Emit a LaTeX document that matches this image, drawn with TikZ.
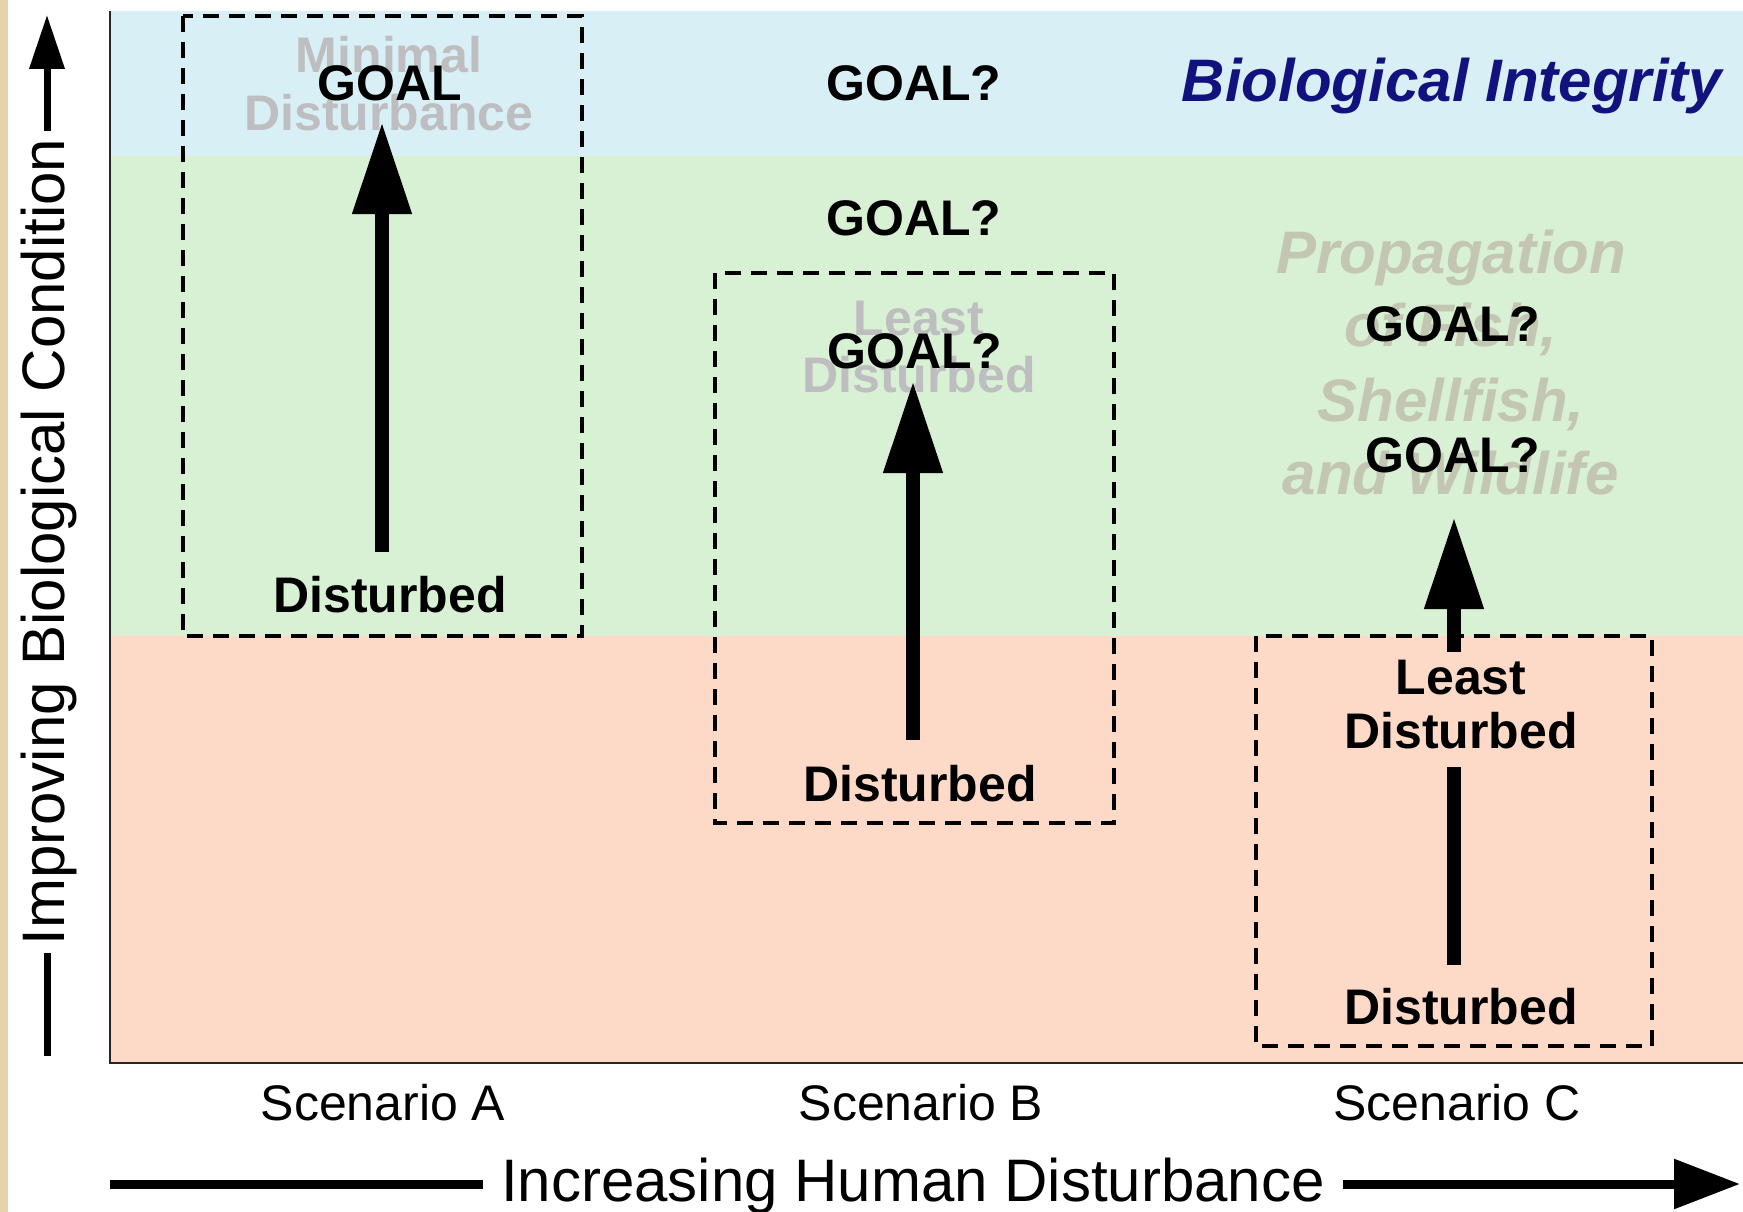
\documentclass[tikz,border=0pt]{standalone}
\usepackage{fontspec}
\setmainfont{Liberation Sans}
\usetikzlibrary{arrows.meta}
\definecolor{bandblue}{HTML}{D9EFF6}
\definecolor{bandgreen}{HTML}{D8F0D3}
\definecolor{bandpink}{HTML}{FDD9C8}
\definecolor{ghost}{HTML}{BEBEC0}
\definecolor{ghostgreen}{HTML}{C2C6B2}
\definecolor{navy}{HTML}{12127F}
\definecolor{parch}{HTML}{E6D3A8}
\begin{document}
\begin{tikzpicture}[x=1pt,y=-1pt,
  big/.style={font=\fontsize{50}{58}\selectfont\bfseries, inner sep=0pt, anchor=base},
  ghosttext/.style={big, text=ghost},
  propag/.style={font=\fontsize{60}{70}\selectfont\bfseries\itshape, inner sep=0pt, anchor=base, text=ghostgreen},
  scen/.style={font=\fontsize{50}{58}\selectfont, inner sep=0pt, anchor=base},
  axislabel/.style={font=\fontsize{60}{70}\selectfont, anchor=base, inner ysep=0pt},
  uparrow/.style={line width=14pt, -{Triangle[width=56pt,length=92pt]}},
  dashbox/.style={draw=black, line width=3.5pt, dash pattern=on 16pt off 10pt},
]
\useasboundingbox (0,0) rectangle (1743,1212);
\fill[white] (0,0) rectangle (1743,1212);
\fill[parch] (0,0) rectangle (8,1212);

% bands
\fill[bandblue] (110,11) rectangle (1743,156);
\fill[bandgreen] (110,156) rectangle (1743,636);
\fill[bandpink] (110,636) rectangle (1743,1063);
\draw[line width=2pt, draw=black!85] (110,11) -- (110,1063) -- (1743,1063);

% ghost texts
\node[ghosttext] (minA1) at (389,73) {Minimal};
\node[ghosttext] (minA2) at (389,131) {Disturbance};
\node[ghosttext] (leastB1) at (919,335) {Least};
\node[ghosttext] (leastB2) at (919,392) {Disturbed};
\node[propag] (prop1) at (1451,273) {Propagation};
\node[propag] (prop2) at (1451,346) {of Fish,};
\node[propag] (prop3) at (1451,421) {Shellfish,};
\node[propag] (prop4) at (1451,494) {and Wildlife};

\node[font=\fontsize{60}{70}\selectfont\bfseries\itshape, inner sep=0pt, anchor=base, text=navy] (bioint) at (1452,102) {Biological Integrity};

% dashed boxes
\draw[dashbox] (183,16) rectangle (582,636);
\draw[dashbox] (715,273) rectangle (1114,823);
\draw[dashbox] (1256,636) rectangle (1652,1046);

% black texts
\node[big] (goalA) at (390,101) {GOAL};
\node[big] (distA) at (390,612) {Disturbed};
\node[big] (goalB1) at (914,101) {GOAL?};
\node[big] (goalB2) at (914,235) {GOAL?};
\node[big] (goalB3) at (915,368) {GOAL?};
\node[big] (distB) at (920,801) {Disturbed};
\node[big] (goalC1) at (1453,341) {GOAL?};
\node[big] (goalC2) at (1453,472) {GOAL?};
\node[big] (leastC1) at (1461,694) {Least};
\node[big] (leastC2) at (1461,748) {Disturbed};
\node[big] (distC) at (1461,1024) {Disturbed};

% arrows
\coordinate (aAs) at (382,552);
\coordinate (aAt) at (382,122);
\coordinate (aBs) at (913,740);
\coordinate (aBt) at (913,381);
\coordinate (aCs) at (1454,652);
\coordinate (aCt) at (1454,517);
\coordinate (barCs) at (1454,965);
\coordinate (barCt) at (1454,767);
\draw[uparrow] (aAs) -- (aAt);
\draw[uparrow] (aBs) -- (aBt);
\draw[uparrow] (aCs) -- (aCt);
\draw[line width=14pt] (barCs) -- (barCt);

% scenario labels
\node[scen] (scA) at (383,1120) {Scenario A};
\node[scen] (scB) at (921,1120) {Scenario B};
\node[scen] (scC) at (1457,1120) {Scenario C};

% x axis
\node[axislabel, inner xsep=18pt] (xlabel) at (913,1201) {Increasing Human Disturbance};
\coordinate (xa) at (110,1184);
\coordinate (xtip) at (1740,1184);
\draw[line width=9pt] (xa) -- (xlabel.west |- xa);
\draw[line width=9pt, -{Triangle[width=48pt,length=66pt]}] (xlabel.east |- xa) -- (xtip);

% y axis
\node[axislabel, inner xsep=7pt, rotate=90] (ylabel) at (64,542) {Improving Biological Condition};
\coordinate (ya) at (47,1056);
\coordinate (ytip) at (47,15);
\draw[line width=7pt] (ya) -- (ya |- ylabel.west);
\draw[line width=7pt, -{Triangle[width=34pt,length=54pt]}] (ya |- ylabel.east) -- (ytip);
\end{tikzpicture}
\end{document}
